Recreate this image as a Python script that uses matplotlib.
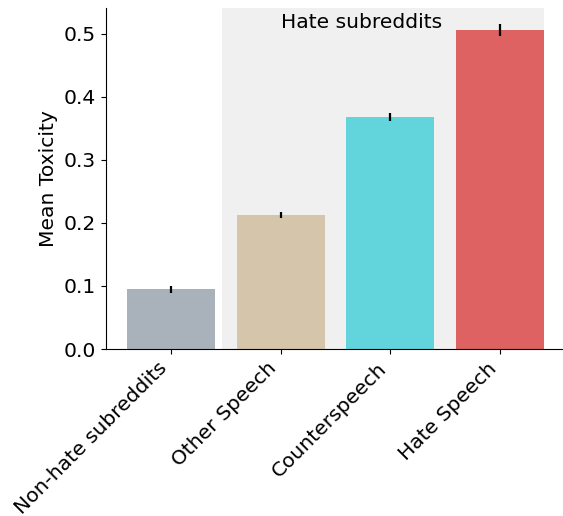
import matplotlib
matplotlib.use("Agg")
import matplotlib.pyplot as plt

categories = ["Non-hate subreddits", "Other Speech", "Counterspeech", "Hate Speech"]
means = [0.095, 0.212, 0.368, 0.506]
errors = [0.0055, 0.0048, 0.0066, 0.0095]
colors = ["#a9b1bb", "#d5c5ab", "#62d5dc", "#de6262"]

fs = 14.6
fig = plt.figure(figsize=(5.63, 5.16), dpi=100)
ax = fig.add_axes([0.188, 0.3236, 0.81, 0.661])

ax.axvspan(0.47, 3.4, color="#f0f0f0", zorder=0, lw=0)
x = list(range(len(categories)))
ax.bar(x, means, width=0.8, color=colors, zorder=2,
       yerr=errors, error_kw=dict(ecolor="black", elinewidth=1.6, capsize=0, zorder=3))

ax.text(1.0, 0.518, "Hate subreddits", ha="left", va="center", fontsize=fs)

ax.set_xlim(-0.59, 3.56)
ax.set_ylim(0, 0.541)
ax.set_yticks([0, 0.1, 0.2, 0.3, 0.4, 0.5])
ax.set_xticks(x)
ax.set_xticklabels(categories, rotation=45, ha="right", fontsize=fs)
ax.tick_params(axis="y", labelsize=fs)
ax.set_ylabel("Mean Toxicity", fontsize=fs)
ax.spines["top"].set_visible(False)
ax.spines["right"].set_visible(False)

fig.savefig("out.png", dpi=100)
